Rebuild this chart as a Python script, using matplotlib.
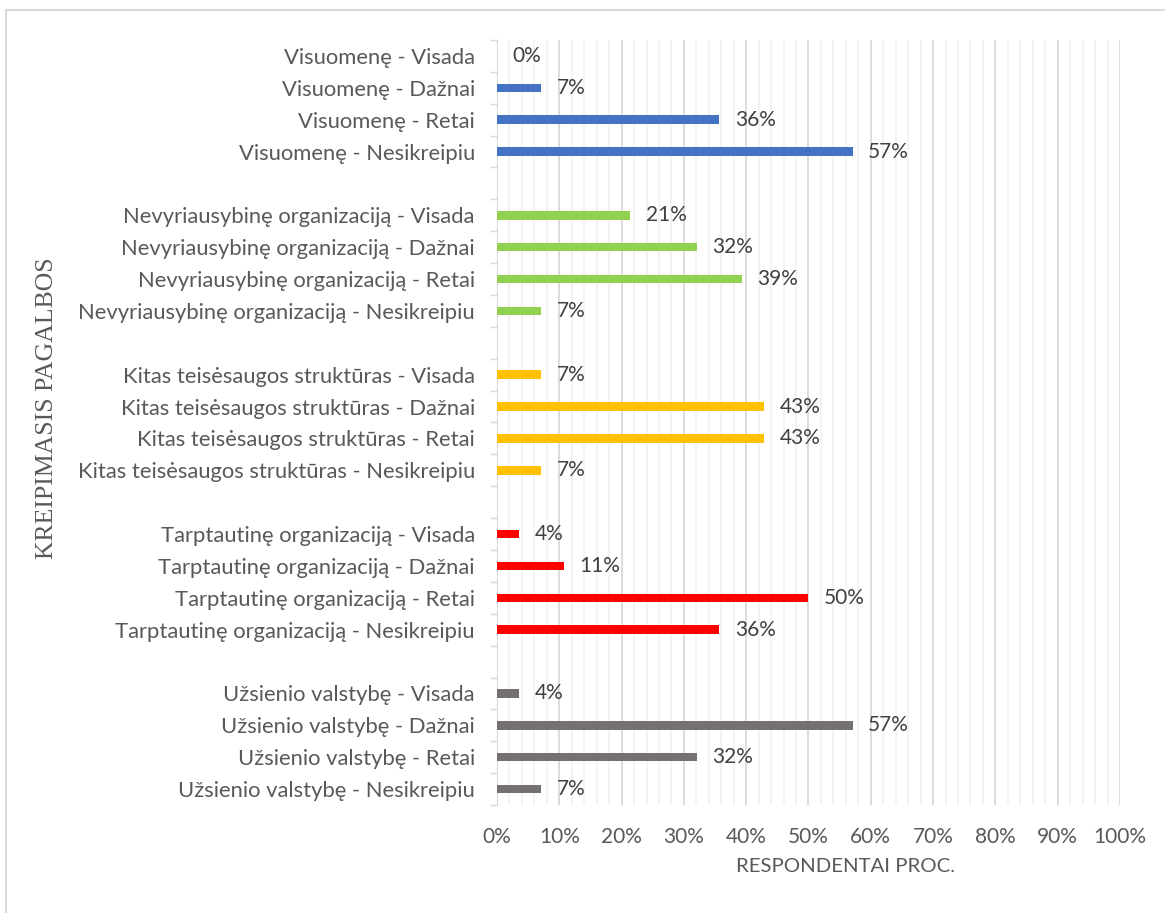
import numpy as np
import matplotlib.pyplot as plt
from matplotlib.ticker import MultipleLocator, FixedLocator, PercentFormatter
from matplotlib.lines import Line2D

# answer levels, top to bottom inside each group
levels = ['Visada', 'Dažnai', 'Retai', 'Nesikreipiu']

groups = ['Visuomenę', 'Nevyriausybinę organizaciją', 'Kitas teisėsaugos struktūras',
          'Tarptautinę organizaciją', 'Užsienio valstybę']

# percent of respondents, same order as levels (labels show them rounded)
visuomene = [0, 7.1, 35.7, 57.1]
nevyriausybine = [21.4, 32.1, 39.3, 7.1]
kitas = [7.1, 42.9, 42.9, 7.1]
tarptautine = [3.6, 10.7, 50.0, 35.7]
uzsienio = [3.6, 57.1, 32.1, 7.1]

values = [visuomene, nevyriausybine, kitas, tarptautine, uzsienio]
colors = ['#4472C4', '#92D050', '#FFC000', '#FF0000', '#767171']

plt.rcParams['font.family'] = ['Lato', 'DejaVu Sans']

fig = plt.figure(figsize=(11.65, 9.13), dpi=100)
ax = fig.add_axes([497 / 1165, 1 - 805 / 913, 623 / 1165, 765 / 913])

# build rows: 4 bars per group and one empty row between groups
labels, vals, cols = [], [], []
for gi, (g, v) in enumerate(zip(groups, values)):
    for lv, x in zip(levels, v):
        labels.append(f'{g} - {lv}')
        vals.append(x)
        cols.append(colors[gi])
    if gi < len(groups) - 1:
        labels.append('')
        vals.append(np.nan)
        cols.append('none')

n = len(labels)
y = np.arange(n)[::-1]
ax.barh(y, np.nan_to_num(vals), height=0.27, color=cols, zorder=3)

for yi, v in zip(y, vals):
    if np.isnan(v):
        continue
    ax.annotate(f'{v:.0f}%', (v, yi), xytext=(11, 0), textcoords='offset points',
                va='center', ha='left', fontsize=15, color='#404040')

ax.set_ylim(-0.5, n - 0.5)
ax.set_xlim(0, 100)
ax.set_yticks(y)
ax.set_yticklabels(labels, fontsize=15.8, color='#595959')
ax.tick_params(axis='y', which='major', length=0, pad=16)
ax.yaxis.set_minor_locator(FixedLocator(np.arange(n + 1) - 0.5))
ax.tick_params(axis='y', which='minor', length=5, color='#D9D9D9', width=1)

ax.xaxis.set_major_locator(MultipleLocator(10))
ax.xaxis.set_minor_locator(MultipleLocator(2))
ax.xaxis.set_major_formatter(PercentFormatter(decimals=0))
ax.tick_params(axis='x', which='both', length=0, labelsize=15, labelcolor='#595959', pad=16)
ax.grid(axis='x', which='major', color='#D9D9D9', lw=1.3, zorder=0)
ax.grid(axis='x', which='minor', color='#F2F2F2', lw=1.3, zorder=0)

for s in ['top', 'right', 'bottom']:
    ax.spines[s].set_visible(False)
ax.spines['left'].set_color('#D9D9D9')

fig.text(846 / 1165, 1 - 866 / 913, 'RESPONDENTAI PROC.', ha='center', va='center',
         fontsize=14.7, color='#595959')
fig.text(47 / 1165, 1 - 408 / 913, 'KREIPIMASIS PAGALBOS', rotation=90, ha='center',
         va='center', fontsize=18.5, color='#595959', family='Liberation Serif')

# outer chart border (only top and left edges fall inside the image)
fig.add_artist(Line2D([6 / 1165, 6 / 1165], [0, 1 - 10 / 913], transform=fig.transFigure,
                      color='#D9D9D9', lw=1.5))
fig.add_artist(Line2D([6 / 1165, 1], [1 - 10 / 913, 1 - 10 / 913], transform=fig.transFigure,
                      color='#D9D9D9', lw=1.5))

fig.savefig('out.png', dpi=100)
